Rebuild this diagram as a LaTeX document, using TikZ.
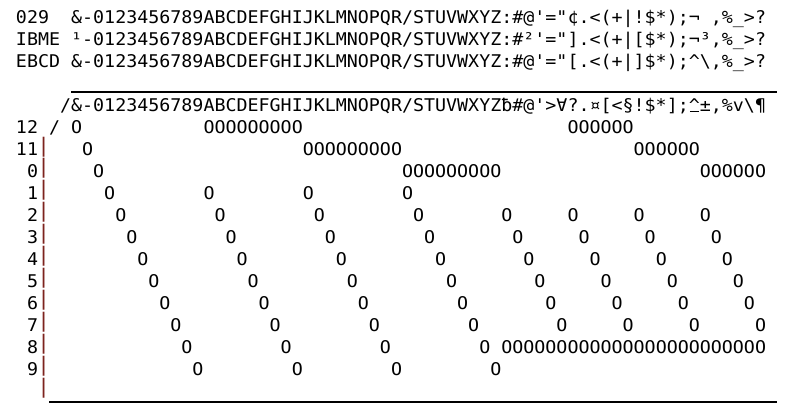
\documentclass[tikz,border=0pt]{standalone}
\usepackage{fontspec}
\newfontfamily\cardmono[FakeStretch=1.047,Ligatures=TeXOff]{DejaVu Sans Mono}
\newcommand\chsp{\hphantom{0}}
\definecolor{barcol}{RGB}{125,35,30}
\begin{document}
\begin{tikzpicture}[x=1pt,y=-1pt,
  txt/.style={anchor=base west,inner sep=0pt,outer sep=0pt,font=\cardmono\fontsize{17.5}{20}\selectfont},
  hole/.style={txt},
  rowbar/.style={anchor=base,inner sep=0pt,outer sep=0pt,font=\cardmono\fontsize{20}{22}\selectfont,text=barcol,yshift=3.5pt},
  lastbar/.style={rowbar,yshift=0pt},
  rulestyle/.style={line width=2pt,line cap=butt}]
\fill[white] (0,0) rectangle (797,407);
\useasboundingbox (0,0) rectangle (797,407);
\def\cw{11.03}\def\xo{16}\def\by{23.8}\def\lp{21.95}
% header lines
\node[txt] (h029) at ({\xo},{\by}) {029};
\node[txt] (h029c) at ({\xo+5*\cw},{\by}) {\&-0123456789ABCDEFGHIJKLMNOPQR/STUVWXYZ:\#@'="¢.<(+|!\$*);¬\chsp,\%\_>?};
\node[txt] (hibm) at ({\xo},{\by+\lp}) {IBME};
\node[txt] (hibmc) at ({\xo+5*\cw},{\by+\lp}) {¹-0123456789ABCDEFGHIJKLMNOPQR/STUVWXYZ:\#²'="].<(+|[\$*);¬³,\%\_>?};
\node[txt] (hebc) at ({\xo},{\by+2*\lp}) {EBCD};
\node[txt] (hebcc) at ({\xo+5*\cw},{\by+2*\lp}) {\&-0123456789ABCDEFGHIJKLMNOPQR/STUVWXYZ:\#@'="[.<(+|]\$*);\textasciicircum\textbackslash,\%\_>?};
% card top edge and column legend
\coordinate (tl) at ({\xo+5*\cw},92);
\coordinate (tr) at ({\xo+69*\cw},92);
\draw[rulestyle] (tl) -- (tr);
\node[txt] (legend) at ({\xo+4*\cw},{\by+4*\lp}) {/\&-0123456789ABCDEFGHIJKLMNOPQR/STUVWXYZƀ\#@'>∀?.¤[<§!\$*];\textasciicircum±,\%v\textbackslash¶};
\coordinate (cu1) at ({\xo+61*\cw+1},111.3);
\coordinate (cu2) at ({\xo+62*\cw-1},111.3);
\draw[line width=1.2pt] (cu1) -- (cu2);
% row labels
\node[txt] (lab12) at ({\xo},{\by+5*\lp}) {12};
\node[txt] (lab12s) at ({\xo+3*\cw},{\by+5*\lp}) {/};
\node[txt] (lab11) at ({\xo},{\by+6*\lp}) {11};
\foreach \d [count=\i from 7] in {0,...,9}
  \node[txt] (lab\d) at ({\xo+\cw},{\by+\i*\lp}) {\d};
\foreach \i in {6,...,16}
  \node[rowbar] (bar\i) at ({\xo+2.5*\cw},{\by+\i*\lp}) {|};
\node[lastbar] (bar17) at ({\xo+2.5*\cw},{\by+17*\lp}) {|};
% punched holes
\foreach \c in {5,17,18,...,25,50,51,...,55}
  \node[hole] (r12-\c) at ({\xo+\c*\cw},{\by+5*\lp}) {O};
\foreach \c in {6,26,27,...,34,56,57,...,61}
  \node[hole] (r11-\c) at ({\xo+\c*\cw},{\by+6*\lp}) {O};
\foreach \c in {7,35,36,...,43,62,63,...,67}
  \node[hole] (r0-\c) at ({\xo+\c*\cw},{\by+7*\lp}) {O};
\foreach \c in {8,17,26,35}
  \node[hole] (r1-\c) at ({\xo+\c*\cw},{\by+8*\lp}) {O};
\foreach \d in {2,...,7}{
  \foreach \k in {7,16,25,34,42,48,54,60}{
    \pgfmathtruncatemacro\c{\k+\d}
    \pgfmathtruncatemacro\ln{7+\d}
    \node[hole] (r\d-\c) at ({\xo+\c*\cw},{\by+\ln*\lp}) {O};
  }
}
\foreach \c in {15,24,33,42,44,45,...,67}
  \node[hole] (r8-\c) at ({\xo+\c*\cw},{\by+15*\lp}) {O};
\foreach \c in {16,25,34,43}
  \node[hole] (r9-\c) at ({\xo+\c*\cw},{\by+16*\lp}) {O};
% card bottom edge
\coordinate (bl) at ({\xo+3*\cw},402);
\coordinate (br) at ({\xo+69*\cw},402);
\draw[rulestyle] (bl) -- (br);
\end{tikzpicture}
\end{document}
